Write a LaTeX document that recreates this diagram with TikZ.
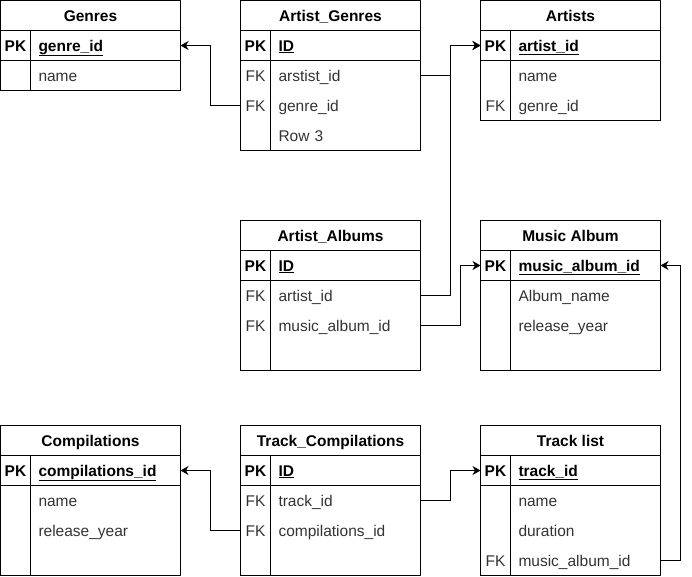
\documentclass[tikz,border=0pt]{standalone}
\usepackage{fontspec}
\setmainfont{Liberation Sans}
\usepackage{xcolor}
\usepackage{tikz}
\usetikzlibrary{arrows.meta,positioning,fit}
\definecolor{txt}{RGB}{51,51,51}

\begin{document}
\begin{tikzpicture}[
    x=1pt, y=-1pt,
    every node/.style={inner sep=0pt, outer sep=0pt, text height=14.5pt, text depth=3.5pt,
                       font=\fontsize{15.5}{18}\selectfont},
    ttl/.style={draw, line width=1pt, minimum width=180pt, minimum height=30pt,
                font=\fontsize{15.5}{18}\selectfont\bfseries},
    key/.style={minimum width=30pt, minimum height=30pt,
                font=\fontsize{15.5}{18}\selectfont\bfseries},
    fkey/.style={minimum width=30pt, minimum height=30pt, text=txt},
    pfld/.style={minimum height=30pt, text width=134pt, inner xsep=8pt, align=left,
                 font=\fontsize{15.5}{18}\selectfont\bfseries},
    fld/.style={minimum height=30pt, text width=134pt, inner xsep=8pt, align=left, text=txt},
    frame/.style={draw, line width=1pt, inner sep=0pt, text height=, text depth=},
    arr/.style={-{Stealth[length=8pt, width=9pt, inset=2.5pt]}, line width=1pt},
  ]
  \useasboundingbox (0,0) rectangle (692,576);

  % Genres
  \node[ttl] (gen) at (90.5,15.5) {Genres};
  \node[key, below right=0pt of gen.south west] (gen-k1) {PK};
  \node[pfld, right=0pt of gen-k1] (gen-f1) {\underline{genre\_id}};
  \foreach \i/\k/\f in {2//name} {
    \pgfmathtruncatemacro{\p}{\i-1}
    \node[fkey, below=0pt of gen-k\p] (gen-k\i) {\k};
    \node[fld, right=0pt of gen-k\i] (gen-f\i) {\f};
  }

  % Artist_Genres
  \node[ttl] (ag) at (330.5,15.5) {Artist\_Genres};
  \node[key, below right=0pt of ag.south west] (ag-k1) {PK};
  \node[pfld, right=0pt of ag-k1] (ag-f1) {\underline{ID}};
  \foreach \i/\k/\f in {2/FK/arstist\_id, 3/FK/genre\_id, 4//Row 3} {
    \pgfmathtruncatemacro{\p}{\i-1}
    \node[fkey, below=0pt of ag-k\p] (ag-k\i) {\k};
    \node[fld, right=0pt of ag-k\i] (ag-f\i) {\f};
  }

  % Artists
  \node[ttl] (art) at (570.5,15.5) {Artists};
  \node[key, below right=0pt of art.south west] (art-k1) {PK};
  \node[pfld, right=0pt of art-k1] (art-f1) {\underline{artist\_id}};
  \foreach \i/\k/\f in {2//name, 3/FK/genre\_id} {
    \pgfmathtruncatemacro{\p}{\i-1}
    \node[fkey, below=0pt of art-k\p] (art-k\i) {\k};
    \node[fld, right=0pt of art-k\i] (art-f\i) {\f};
  }

  % Artist_Albums
  \node[ttl] (aa) at (330.5,235.5) {Artist\_Albums};
  \node[key, below right=0pt of aa.south west] (aa-k1) {PK};
  \node[pfld, right=0pt of aa-k1] (aa-f1) {\underline{ID}};
  \foreach \i/\k/\f in {2/FK/artist\_id, 3/FK/music\_album\_id, 4//} {
    \pgfmathtruncatemacro{\p}{\i-1}
    \node[fkey, below=0pt of aa-k\p] (aa-k\i) {\k};
    \node[fld, right=0pt of aa-k\i] (aa-f\i) {\f};
  }

  % Music Album
  \node[ttl] (ma) at (570.5,235.5) {Music Album};
  \node[key, below right=0pt of ma.south west] (ma-k1) {PK};
  \node[pfld, right=0pt of ma-k1] (ma-f1) {\underline{music\_album\_id}};
  \foreach \i/\k/\f in {2//Album\_name, 3//release\_year, 4//} {
    \pgfmathtruncatemacro{\p}{\i-1}
    \node[fkey, below=0pt of ma-k\p] (ma-k\i) {\k};
    \node[fld, right=0pt of ma-k\i] (ma-f\i) {\f};
  }

  % Compilations
  \node[ttl] (com) at (90.5,440.5) {Compilations};
  \node[key, below right=0pt of com.south west] (com-k1) {PK};
  \node[pfld, right=0pt of com-k1] (com-f1) {\underline{compilations\_id}};
  \foreach \i/\k/\f in {2//name, 3//release\_year, 4//} {
    \pgfmathtruncatemacro{\p}{\i-1}
    \node[fkey, below=0pt of com-k\p] (com-k\i) {\k};
    \node[fld, right=0pt of com-k\i] (com-f\i) {\f};
  }

  % Track_Compilations
  \node[ttl] (tc) at (330.5,440.5) {Track\_Compilations};
  \node[key, below right=0pt of tc.south west] (tc-k1) {PK};
  \node[pfld, right=0pt of tc-k1] (tc-f1) {\underline{ID}};
  \foreach \i/\k/\f in {2/FK/track\_id, 3/FK/compilations\_id, 4//} {
    \pgfmathtruncatemacro{\p}{\i-1}
    \node[fkey, below=0pt of tc-k\p] (tc-k\i) {\k};
    \node[fld, right=0pt of tc-k\i] (tc-f\i) {\f};
  }

  % Track list
  \node[ttl] (tl) at (570.5,440.5) {Track list};
  \node[key, below right=0pt of tl.south west] (tl-k1) {PK};
  \node[pfld, right=0pt of tl-k1] (tl-f1) {\underline{track\_id}};
  \foreach \i/\k/\f in {2//name, 3//duration, 4/FK/music\_album\_id} {
    \pgfmathtruncatemacro{\p}{\i-1}
    \node[fkey, below=0pt of tl-k\p] (tl-k\i) {\k};
    \node[fld, right=0pt of tl-k\i] (tl-f\i) {\f};
  }

  % Frames and separators
  \foreach \t/\n in {gen/2, ag/4, art/3, aa/4, ma/4, com/4, tc/4, tl/4} {
    \node[frame, fit=(\t)(\t-f\n)] (\t-box) {};
    \draw[line width=1pt] (\t-k1.south west) -- (\t-f1.south east);
    \draw[line width=1pt] (\t-k1.north east) -- (\t-k\n.south east);
  }

  % Relations
  \draw[arr] (ag-k3.west) -- ++(-30,0) |- (gen-f1.east);
  \draw[arr] (ag-f2.east) -- ++(30,0) |- (art-k1.west);
  \draw[arr] (aa-f2.east) -- ++(30,0) |- (art-k1.west);
  \draw[arr] (aa-f3.east) -- ++(40,0) |- (ma-k1.west);
  \draw[arr] (tl-f4.east) -- ++(20,0) |- (ma-f1.east);
  \draw[arr] (tc-k3.west) -- ++(-30,0) |- (com-f1.east);
  \draw[arr] (tc-f2.east) -- ++(30,0) |- (tl-k1.west);
\end{tikzpicture}
\end{document}
